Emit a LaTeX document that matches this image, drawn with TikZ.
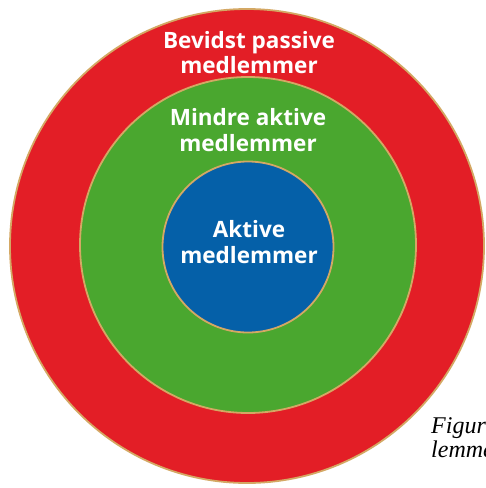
\documentclass[tikz,border=0pt]{standalone}
\usepackage{fontspec}
\setmainfont{Liberation Serif}
\newfontfamily\labelfont{Open Sans}
\usepackage{tikz}
\usetikzlibrary{positioning}

\definecolor{ringred}{RGB}{227,30,38}
\definecolor{ringgreen}{RGB}{74,167,47}
\definecolor{ringblue}{RGB}{5,96,168}
\definecolor{ringedge}{RGB}{212,168,100}

\begin{document}
\begin{tikzpicture}[
    x=1pt, y=-1pt,
    ring/.style={circle, draw=ringedge, line width=1.8pt, inner sep=0pt},
    ringlabel/.style={text=white, align=center, inner sep=0pt,
        font=\labelfont\bfseries\fontsize{22.5}{25.5}\selectfont},
    caption/.style={align=left, inner sep=0pt, anchor=base west,
        font=\itshape\fontsize{24}{24}\selectfont}
]
\useasboundingbox (0,0) rectangle (486,488);

% Rings
\node (passive) [ring, fill=ringred, minimum size=474pt] at (247,246) {};
\node (lessactive) [ring, fill=ringgreen, minimum size=336pt] at (248,245) {};
\node (active) [ring, fill=ringblue, minimum size=171pt] at (248,247) {};

% Labels
\node (passiveText) [ringlabel] at (249,52.5) {Bevidst passive\\medlemmer};
\node (lessactiveText) [ringlabel] at (248,130) {Mindre aktive\\medlemmer};
\node (activeText) [ringlabel] at (249,242) {Aktive\\medlemmer};

% Caption (cut off at the page edge)
\node (figCaption) [caption] at (431,457) {Figur\\lemmer};
\end{tikzpicture}
\end{document}
